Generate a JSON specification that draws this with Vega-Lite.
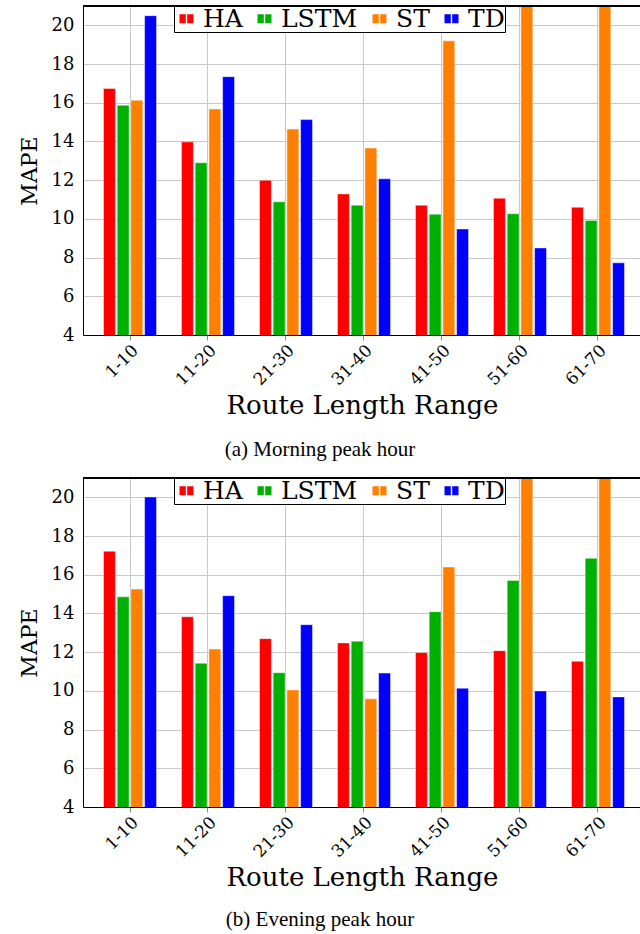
{
  "$schema": "https://vega.github.io/schema/vega-lite/v6.json",
  "padding": {"top": 5, "left": 17, "right": 0, "bottom": 0},
  "background": "white",
  "datasets": {
    "morning": [
      {"range": "1-10", "method": "HA", "mape": 16.74}, {"range": "1-10", "method": "LSTM", "mape": 15.87}, {"range": "1-10", "method": "ST", "mape": 16.13}, {"range": "1-10", "method": "TD", "mape": 20.5},
      {"range": "11-20", "method": "HA", "mape": 13.98}, {"range": "11-20", "method": "LSTM", "mape": 12.9}, {"range": "11-20", "method": "ST", "mape": 15.68}, {"range": "11-20", "method": "TD", "mape": 17.35},
      {"range": "21-30", "method": "HA", "mape": 12.0}, {"range": "21-30", "method": "LSTM", "mape": 10.88}, {"range": "21-30", "method": "ST", "mape": 14.64}, {"range": "21-30", "method": "TD", "mape": 15.13},
      {"range": "31-40", "method": "HA", "mape": 11.29}, {"range": "31-40", "method": "LSTM", "mape": 10.71}, {"range": "31-40", "method": "ST", "mape": 13.66}, {"range": "31-40", "method": "TD", "mape": 12.07},
      {"range": "41-50", "method": "HA", "mape": 10.71}, {"range": "41-50", "method": "LSTM", "mape": 10.24}, {"range": "41-50", "method": "ST", "mape": 19.2}, {"range": "41-50", "method": "TD", "mape": 9.48},
      {"range": "51-60", "method": "HA", "mape": 11.07}, {"range": "51-60", "method": "LSTM", "mape": 10.27}, {"range": "51-60", "method": "ST", "mape": 22}, {"range": "51-60", "method": "TD", "mape": 8.5},
      {"range": "61-70", "method": "HA", "mape": 10.6}, {"range": "61-70", "method": "LSTM", "mape": 9.92}, {"range": "61-70", "method": "ST", "mape": 22}, {"range": "61-70", "method": "TD", "mape": 7.73}
    ],
    "evening": [
      {"range": "1-10", "method": "HA", "mape": 17.22}, {"range": "1-10", "method": "LSTM", "mape": 14.86}, {"range": "1-10", "method": "ST", "mape": 15.26}, {"range": "1-10", "method": "TD", "mape": 20.02},
      {"range": "11-20", "method": "HA", "mape": 13.83}, {"range": "11-20", "method": "LSTM", "mape": 11.43}, {"range": "11-20", "method": "ST", "mape": 12.16}, {"range": "11-20", "method": "TD", "mape": 14.92},
      {"range": "21-30", "method": "HA", "mape": 12.7}, {"range": "21-30", "method": "LSTM", "mape": 10.94}, {"range": "21-30", "method": "ST", "mape": 10.05}, {"range": "21-30", "method": "TD", "mape": 13.42},
      {"range": "31-40", "method": "HA", "mape": 12.48}, {"range": "31-40", "method": "LSTM", "mape": 12.57}, {"range": "31-40", "method": "ST", "mape": 9.59}, {"range": "31-40", "method": "TD", "mape": 10.92},
      {"range": "41-50", "method": "HA", "mape": 11.98}, {"range": "41-50", "method": "LSTM", "mape": 14.09}, {"range": "41-50", "method": "ST", "mape": 16.4}, {"range": "41-50", "method": "TD", "mape": 10.14},
      {"range": "51-60", "method": "HA", "mape": 12.08}, {"range": "51-60", "method": "LSTM", "mape": 15.71}, {"range": "51-60", "method": "ST", "mape": 22}, {"range": "51-60", "method": "TD", "mape": 10.0},
      {"range": "61-70", "method": "HA", "mape": 11.53}, {"range": "61-70", "method": "LSTM", "mape": 16.85}, {"range": "61-70", "method": "ST", "mape": 22}, {"range": "61-70", "method": "TD", "mape": 9.69}
    ]
  },
  "bounds": "flush",
  "spacing": 143,
  "resolve": {"scale": {"color": "independent"}, "legend": {"color": "independent"}},
  "vconcat": [
    {
      "data": {"name": "morning"},
      "width": 558,
      "height": 329,
      "view": {"stroke": "transparent"},
      "title": {"text": "(a) Morning peak hour", "orient": "bottom", "dx": -42, "offset": 20},
      "layer": [
        {
          "mark": {"type": "bar", "clip": true, "stroke": "white", "strokeOpacity": 0.45, "strokeWidth": 1},
          "encoding": {
            "x": {"field": "range", "type": "nominal", "sort": null, "scale": {"paddingInner": 0.32, "paddingOuter": 0.237, "align": 0.554}, "axis": {"title": "Route Length Range"}},
            "xOffset": {"field": "method", "type": "nominal", "scale": {"paddingInner": 0.13, "paddingOuter": 0}},
            "y": {"field": "mape", "type": "quantitative", "scale": {"domain": [4, 21], "zero": false, "nice": false}, "axis": {"title": "MAPE", "values": [4, 6, 8, 10, 12, 14, 16, 18, 20]}},
            "color": {"field": "method", "type": "nominal", "scale": {"domain": ["HA", "LSTM", "ST", "TD"], "range": ["#ff0000", "#00b000", "#ff8000", "#0000ff"]}, "legend": {"title": null}}
          }
        },
        {
          "mark": {"type": "rule", "color": "black", "strokeWidth": 1},
          "encoding": {"y": {"datum": 21}}
        }
      ]
    },
    {
      "data": {"name": "evening"},
      "width": 558,
      "height": 329,
      "view": {"stroke": "transparent"},
      "title": {"text": "(b) Evening peak hour", "orient": "bottom", "dx": -42, "offset": 18},
      "layer": [
        {
          "mark": {"type": "bar", "clip": true, "stroke": "white", "strokeOpacity": 0.45, "strokeWidth": 1},
          "encoding": {
            "x": {"field": "range", "type": "nominal", "sort": null, "scale": {"paddingInner": 0.32, "paddingOuter": 0.237, "align": 0.554}, "axis": {"title": "Route Length Range"}},
            "xOffset": {"field": "method", "type": "nominal", "scale": {"paddingInner": 0.13, "paddingOuter": 0}},
            "y": {"field": "mape", "type": "quantitative", "scale": {"domain": [4, 21], "zero": false, "nice": false}, "axis": {"title": "MAPE", "values": [4, 6, 8, 10, 12, 14, 16, 18, 20]}},
            "color": {"field": "method", "type": "nominal", "scale": {"domain": ["HA", "LSTM", "ST", "TD"], "range": ["#ff0000", "#00b000", "#ff8000", "#0000ff"]}, "legend": {"title": null}}
          }
        },
        {
          "mark": {"type": "rule", "color": "black", "strokeWidth": 1},
          "encoding": {"y": {"datum": 21}}
        }
      ]
    }
  ],
  "config": {
    "font": "DejaVu Serif",
    "view": {"stroke": "transparent"},
    "title": {"font": "Liberation Serif", "fontSize": 21, "fontWeight": "normal", "color": "black"},
    "axis": {
      "gridColor": "#c8c8c8",
      "gridWidth": 1,
      "domainColor": "black",
      "labelColor": "black",
      "titleColor": "black",
      "titleFont": "DejaVu Serif",
      "labelFont": "DejaVu Serif",
      "titleFontWeight": "normal",
      "titleFontSize": 26,
      "labelFontSize": 18
    },
    "axisX": {"labelAngle": -45, "labelAlign": "right", "labelBaseline": "top", "labelFontSize": 17, "tickSize": 5, "tickColor": "#888888", "labelPadding": 2, "titlePadding": 5, "grid": true},
    "axisY": {"ticks": false, "labelPadding": 9, "titlePadding": 10, "titleFontSize": 22, "grid": true},
    "legend": {
      "orient": "none",
      "legendX": 91,
      "legendY": 0,
      "direction": "horizontal",
      "symbolType": "M-1,-0.65H-0.1V0.65H-1Z M0.1,-0.65H1V0.65H0.1Z",
      "symbolSize": 196,
      "symbolStrokeWidth": 0,
      "labelFont": "DejaVu Serif",
      "labelFontSize": 25,
      "labelColor": "black",
      "labelOffset": 4,
      "labelLimit": 0,
      "columnPadding": 9,
      "strokeColor": "black",
      "fillColor": "white",
      "padding": 0
    }
  }
}
